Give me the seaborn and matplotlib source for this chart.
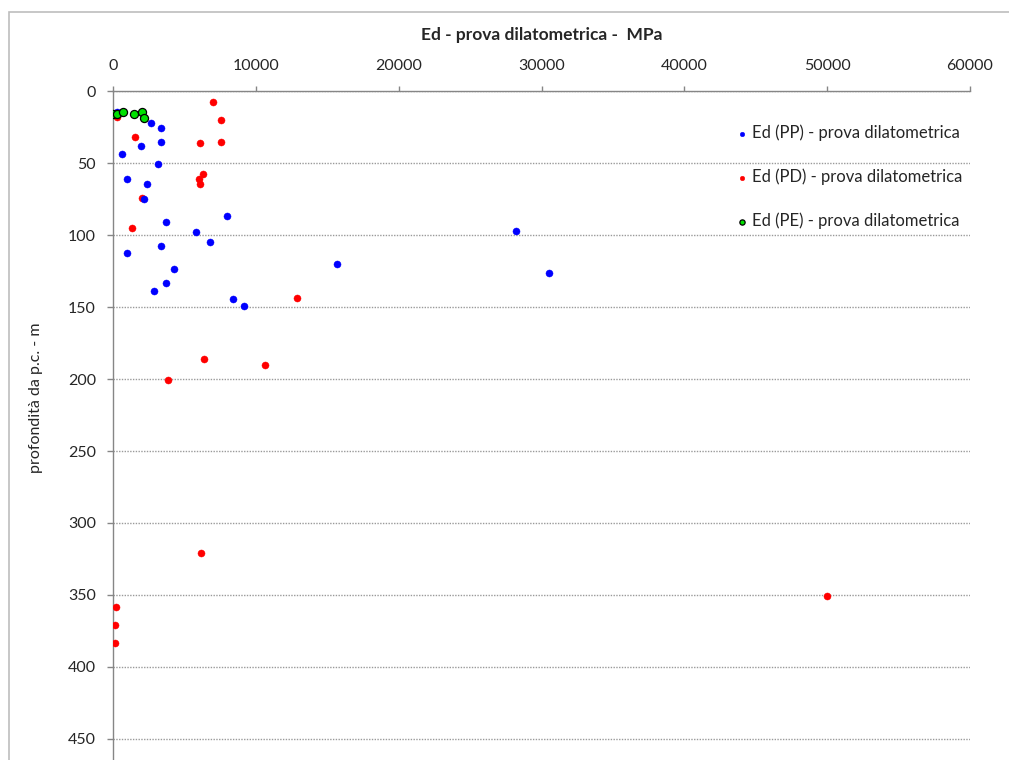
import matplotlib
matplotlib.use("Agg")
import matplotlib.pyplot as plt
import seaborn as sns
import pandas as pd
from matplotlib.patches import Rectangle

# Data
pp_x = [300, 2660, 3380, 3380, 1960, 607, 3130, 957, 2380, 2170, 3730, 7960,
        5790, 6770, 3380, 1000, 4290, 3690, 2890, 8380, 9150, 15660, 28210, 30540]
pp_y = [14.8, 22.4, 25.9, 35.4, 38.0, 43.8, 50.5, 60.9, 64.8, 74.8, 90.8, 86.8,
        98.1, 104.6, 107.9, 112.7, 123.8, 133.1, 139.1, 144.2, 149.3, 120.1, 97.2, 126.2]

pd_x = [300, 6980, 7560, 6090, 7560, 1540, 6320, 6040, 6110, 2010, 1330, 12880,
        6390, 3830, 10640, 6160, 50000, 210, 117, 140]
pd_y = [18.3, 7.4, 19.9, 35.9, 35.4, 31.7, 57.9, 60.9, 64.4, 74.1, 95.4, 143.8,
        186.3, 200.7, 190.3, 320.8, 351.0, 358.5, 370.6, 383.5]

pe_x = [23, 303, 723, 1470, 2030, 2190]
pe_y = [15.8, 15.8, 14.8, 15.8, 14.8, 18.9]

labels = ["Ed (PP) - prova dilatometrica",
          "Ed (PD) - prova dilatometrica",
          "Ed (PE) - prova dilatometrica"]
title = "Ed - prova dilatometrica -  MPa"
ylabel = "profondità da p.c. - m"
xticks = [0, 10000, 20000, 30000, 40000, 50000, 60000]
yticks = [0, 50, 100, 150, 200, 250, 300, 350, 400, 450]

sns.set_theme(style="white")
plt.rcParams['font.family'] = ['Lato', 'DejaVu Sans']

W, H = 1009, 760
fig = plt.figure(figsize=(W / 100, H / 100), dpi=100)
left, right, top, bottom = 113, 970, 91, 760
ax = fig.add_axes([left / W, 1 - bottom / H, (right - left) / W, (bottom - top) / H])

# outer chart border
fig.patches.append(Rectangle((9 / W, -0.05), 1.1, (H - 12) / H + 0.05,
                             transform=fig.transFigure, fill=False,
                             edgecolor="#bdbdbd", linewidth=1.2))

df_pp = pd.DataFrame({"x": pp_x, "y": pp_y})
df_pd = pd.DataFrame({"x": pd_x, "y": pd_y})
df_pe = pd.DataFrame({"x": pe_x, "y": pe_y})

sns.scatterplot(data=df_pd, x="x", y="y", ax=ax, color="#ff0000", s=26,
                edgecolor="#ff0000", linewidth=0.3, label=labels[1], zorder=3)
sns.scatterplot(data=df_pp, x="x", y="y", ax=ax, color="#0000ff", s=26,
                edgecolor="#0000ff", linewidth=0.3, label=labels[0], zorder=3)
sns.scatterplot(data=df_pe, x="x", y="y", ax=ax, color="#00e000", s=34,
                edgecolor="black", linewidth=0.9, label=labels[2], zorder=4)

ax.set_xlim(0, 60000)
ymax = (bottom - top) / 1.44
ax.set_ylim(ymax, 0)
ax.set_xticks(xticks)
ax.set_yticks(yticks)
ax.xaxis.tick_top()
ax.xaxis.set_label_position("top")
ax.set_xlabel("")
ax.set_ylabel(ylabel, fontsize=11.5)
ax.yaxis.set_label_coords((43 - left) / (right - left), 1 - (398 - top) / (bottom - top))

ax.tick_params(axis="x", which="both", top=True, bottom=False, direction="out",
               length=3.6, width=1, color="#868686", labelsize=11.5, pad=9)
ax.tick_params(axis="y", which="both", left=True, direction="out",
               length=4.3, width=1, color="#868686", labelsize=11.5, pad=8)

for s in ["right", "bottom"]:
    ax.spines[s].set_visible(False)
for s in ["left", "top"]:
    ax.spines[s].set_color("#868686")
    ax.spines[s].set_linewidth(1)

ax.yaxis.grid(True, linestyle=(0, (1, 1)), color="#9a9a9a", linewidth=1)
ax.xaxis.grid(False)

fig.text((left + right) / 2 / W, 1 - 35 / H, title, ha="center", va="center",
         fontsize=12.5, fontweight="bold")

handles, labs = ax.get_legend_handles_labels()
order = [labs.index(l) for l in labels]
leg = ax.legend([handles[i] for i in order], [labs[i] for i in order],
                loc="upper left", bbox_to_anchor=((725 - left) / (right - left), 1 - (116 - top) / (bottom - top)),
                frameon=False, fontsize=12, markerscale=0.65, handletextpad=0.15,
                labelspacing=1.65, borderpad=0, handlelength=1.0)

fig.savefig("out.png", dpi=100)
